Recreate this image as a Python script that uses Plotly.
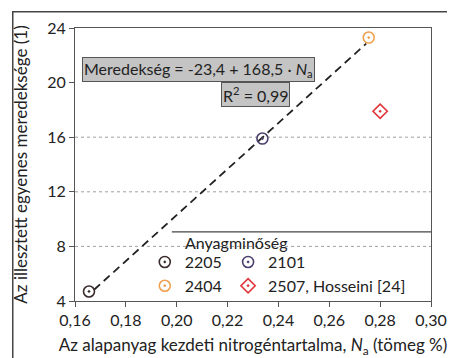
import plotly.graph_objects as go

# ---- data ----
series_names = ["2205", "2101", "2404", "2507, Hosseini [24]"]
series_x = [[0.1655], [0.2337], [0.2755], [0.2800]]
series_y = [[4.7], [15.9], [23.3], [17.9]]
series_colors = ["#3a2b2b", "#4b3f6b", "#f0a04b", "#e0343a"]
series_symbols = ["circle-open-dot", "circle-open-dot", "circle-open-dot", "diamond-open-dot"]
series_legend = ["legend", "legend2", "legend", "legend2"]

fit_intercept = -23.4
fit_slope = 168.5
fit_x = [0.1675, 0.2745]

x_tickvals = [0.16, 0.18, 0.20, 0.22, 0.24, 0.26, 0.28, 0.30]
x_ticktext = ["0,16", "0,18", "0,20", "0,22", "0,24", "0,26", "0,28", "0,30"]
y_tickvals = [4, 8, 12, 16, 20, 24]
grid_values = [8, 12, 16]

FONT = "Lato"
fig = go.Figure()

fig.add_trace(go.Scatter(
    x=fit_x, y=[fit_intercept + fit_slope * v for v in fit_x],
    mode="lines", line=dict(color="#222222", width=1.8, dash="8px,5px"),
    showlegend=False, hoverinfo="skip"))

for n, xs, ys, c, s, lg in zip(series_names, series_x, series_y, series_colors,
                               series_symbols, series_legend):
    fig.add_trace(go.Scatter(
        x=xs, y=ys, name=n, mode="markers", legend=lg,
        marker=dict(symbol=s, size=11, color=c, line=dict(color=c, width=1.6))))

shapes = []
for g in grid_values:
    shapes.append(dict(type="line", xref="x", yref="y", x0=0.16, x1=0.30, y0=g, y1=g,
                       line=dict(color="#a0a0a0", width=1, dash="dot"), layer="below"))
# legend box (white, top border)
shapes.append(dict(type="rect", xref="paper", yref="paper", x0=0.272, x1=0.997, y0=0.003,
                   y1=0.253, fillcolor="white", line=dict(width=0), layer="between"))
shapes.append(dict(type="line", xref="paper", yref="paper", x0=0.272, x1=1.0, y0=0.253,
                   y1=0.253, line=dict(color="#444444", width=1.2)))
fig.update_layout(shapes=shapes)

# outer frame of the figure (left and top edges visible)
fig.add_annotation(
    xref="paper", yref="paper", x=-0.178, y=1.064, xanchor="left", yanchor="top",
    text=" ", showarrow=False, width=470, height=380, align="left", valign="top",
    bordercolor="#444444", borderwidth=1.5, borderpad=0, bgcolor="rgba(0,0,0,0)")

fig.add_annotation(
    xref="paper", yref="paper", x=0.02, y=0.893, xanchor="left", yanchor="top",
    text="Meredekség = -23,4 + 168,5 · <i>N</i><sub>a</sub>", showarrow=False,
    font=dict(family=FONT, size=16, color="#222222"),
    bgcolor="#c4c4c4", bordercolor="#555555", borderwidth=1, borderpad=1)
fig.add_annotation(
    xref="paper", yref="paper", x=0.604, y=0.802, xanchor="right", yanchor="top",
    text="R<sup>2</sup> = 0,99", showarrow=False,
    font=dict(family=FONT, size=16, color="#222222"),
    bgcolor="#c4c4c4", bordercolor="#555555", borderwidth=1, borderpad=1)
fig.add_annotation(
    xref="paper", yref="paper", x=0.455, y=0.215, xanchor="center", yanchor="middle",
    text="Anyagminőség", showarrow=False,
    font=dict(family=FONT, size=16, color="#222222"))

leg_common = dict(bgcolor="rgba(0,0,0,0)", borderwidth=0, orientation="v",
                  font=dict(family=FONT, size=16, color="#222222"),
                  itemwidth=30, tracegroupgap=0, yanchor="top", xanchor="left")
fig.update_layout(
    legend=dict(x=0.196, y=0.205, **leg_common),
    legend2=dict(x=0.43, y=0.205, **leg_common),
)

# page body has an 8px margin, so the figure is sized/offset to compensate
fig.update_layout(
    width=447, height=350,
    margin=dict(l=67, r=24, t=20, b=57, autoexpand=False),
    paper_bgcolor="white", plot_bgcolor="white",
    font=dict(family=FONT, size=16, color="#222222"),
    xaxis=dict(range=[0.16, 0.30], tickvals=x_tickvals, ticktext=x_ticktext,
               showgrid=False, zeroline=False, showline=True, linecolor="#555555",
               linewidth=1.2, mirror=True, ticks="outside", ticklen=5, tickcolor="#555555",
               automargin=False,
               title=dict(text="Az alapanyag kezdeti nitrogéntartalma, <i>N</i><sub>a</sub> (tömeg %)",
                          font=dict(family=FONT, size=17)),
               tickfont=dict(family=FONT, size=16)),
    yaxis=dict(range=[4, 24], tickvals=y_tickvals, showgrid=False, zeroline=False,
               showline=True, linecolor="#555555", linewidth=1.2, mirror=True,
               ticks="outside", ticklen=5, tickcolor="#555555", automargin=False,
               title=dict(text="Az illesztett egyenes meredeksége (1)",
                          font=dict(family=FONT, size=17)),
               tickfont=dict(family=FONT, size=16)),
)

fig.write_html("out.html")
